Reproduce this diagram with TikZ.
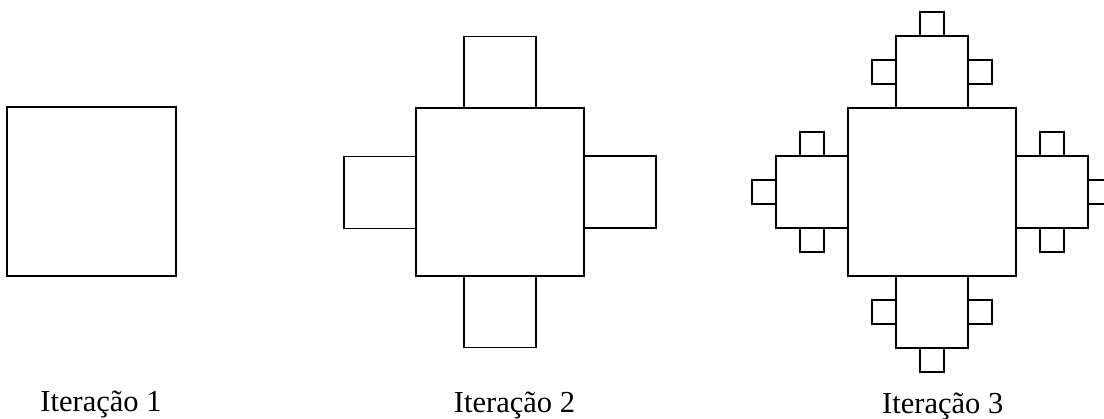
\documentclass[tikz,border=0pt]{standalone}
\usepackage{fontspec}
\setmainfont{Liberation Serif}
\begin{document}
\begin{tikzpicture}[x=1pt,y=-1pt,
  sq/.style={draw=black,line width=1.8pt,line join=miter},
  lbl/.style={anchor=base,inner sep=0pt,font=\fontsize{30.5}{36}\selectfont}]
\useasboundingbox (0,0) rectangle (1104,419);
\clip (0,0) rectangle (1104,419);

% Iteration 1
\draw[sq] (7,107) rectangle (176,276);

% Iteration 2: centre square with four attached squares
\draw[sq] (416,108) rectangle (584,276);
\draw[sq] (464,36.5) rectangle (536,108);
\draw[sq] (464,276) rectangle (536,347.5);
\draw[sq] (344,156.5) rectangle (416,228.5);
\draw[sq] (584,156) rectangle (656,228);

% Iteration 3: centre square
\draw[sq] (848,108) rectangle (1016,276);
% top branch
\draw[sq] (896,36) rectangle (968,108);
\draw[sq] (920,12) rectangle (944,36);
\draw[sq] (872,60) rectangle (896,84);
\draw[sq] (968,60) rectangle (992,84);
% bottom branch
\draw[sq] (896,276) rectangle (968,348);
\draw[sq] (920,348) rectangle (944,372);
\draw[sq] (872,300) rectangle (896,324);
\draw[sq] (968,300) rectangle (992,324);
% left branch
\draw[sq] (776,156) rectangle (848,228);
\draw[sq] (752,180) rectangle (776,204);
\draw[sq] (800,132) rectangle (824,156);
\draw[sq] (800,228) rectangle (824,252);
% right branch
\draw[sq] (1016,156) rectangle (1088,228);
\draw[sq] (1088,180) rectangle (1112,204);
\draw[sq] (1040,132) rectangle (1064,156);
\draw[sq] (1040,228) rectangle (1064,252);

% captions
\node[lbl] (cap1) at (101,411.7) {Iteração 1};
\node[lbl] (cap2) at (514.5,412.7) {Iteração 2};
\node[lbl] (cap3) at (942.7,414) {Iteração 3};
\end{tikzpicture}
\end{document}
